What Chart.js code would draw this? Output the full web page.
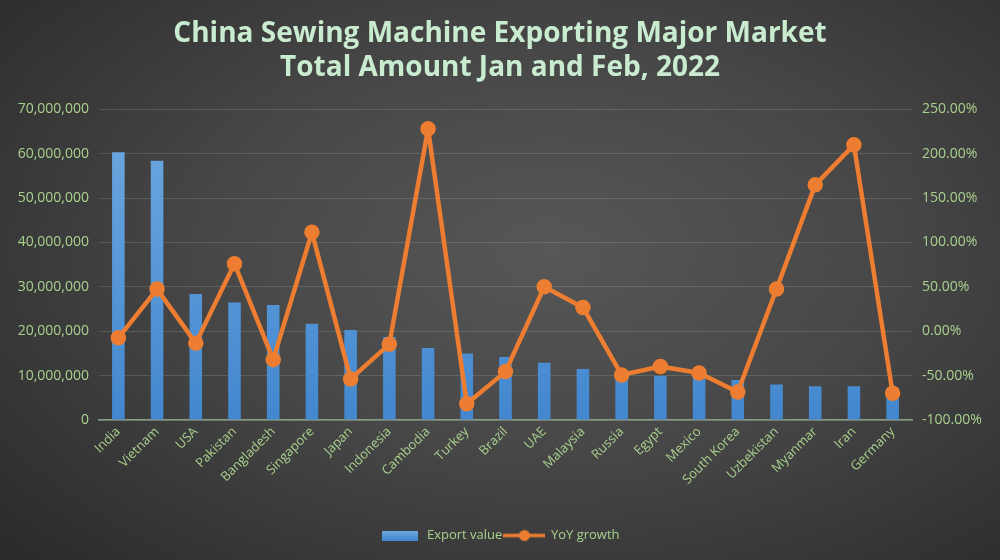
<!DOCTYPE html>
<html>
<head>
<meta charset="utf-8">
<script src="https://cdn.jsdelivr.net/npm/chart.js@4"></script>
<style>
  html, body { margin: 0; padding: 0; }
  body {
    width: 1000px; height: 560px; overflow: hidden;
    background: radial-gradient(ellipse 75% 80% at 55% 45%, #575757 0%, #474747 45%, #2a2a2a 100%);
  }
  #wrap { position: relative; width: 1000px; height: 560px; }
</style>
</head>
<body>
<div id="wrap"><canvas id="chart" width="1000" height="560"></canvas></div>
<script>
'use strict';

// Markets (x categories)
const markets = ['India', 'Vietnam', 'USA', 'Pakistan', 'Bangladesh', 'Singapore', 'Japan', 'Indonesia',
  'Cambodia', 'Turkey', 'Brazil', 'UAE', 'Malaysia', 'Russia', 'Egypt', 'Mexico', 'South Korea',
  'Uzbekistan', 'Myanmar', 'Iran', 'Germany'];

// Export value (USD)
const exportValue = [60300000, 58400000, 28400000, 26500000, 25900000, 21700000, 20300000, 18700000,
  16250000, 15000000, 14200000, 12900000, 11500000, 10500000, 9900000, 9900000, 9000000,
  8000000, 7600000, 7600000, 7200000];

// YoY growth (fraction)
const yoyGrowth = [-0.074, 0.475, -0.134, 0.76, -0.32, 1.114, -0.537, -0.146,
  2.28, -0.816, -0.455, 0.50, 0.268, -0.492, -0.398, -0.47, -0.684,
  0.475, 1.649, 2.10, -0.699];

// Axis ticks
const leftTicks = [0, 10000000, 20000000, 30000000, 40000000, 50000000, 60000000, 70000000];
const rightTicks = [-1, -0.5, 0, 0.5, 1, 1.5, 2, 2.5];

const titleLines = ['China Sewing Machine Exporting Major Market', 'Total Amount Jan and Feb, 2022'];

const green = '#a9d18e';
const orange = '#ed7d31';
const font = "'Open Sans', sans-serif";

// legend icons
const lineIcon = document.createElement('canvas');
lineIcon.width = 42;
lineIcon.height = 14;
(function () {
  const c = lineIcon.getContext('2d');
  c.strokeStyle = orange;
  c.lineWidth = 3.5;
  c.beginPath();
  c.moveTo(0, 7);
  c.lineTo(42, 7);
  c.stroke();
  c.fillStyle = orange;
  c.beginPath();
  c.arc(21, 7, 5.5, 0, Math.PI * 2);
  c.fill();
})();
const barIcon = document.createElement('canvas');
barIcon.width = 36;
barIcon.height = 10;
(function () {
  const c = barIcon.getContext('2d');
  const g = c.createLinearGradient(0, 0, 0, 10);
  g.addColorStop(0, '#6fa9e0');
  g.addColorStop(1, '#4287cf');
  c.fillStyle = g;
  c.fillRect(0, 0, 36, 10);
})();

function barFill(ctx) {
  const area = ctx.chart.chartArea;
  if (!area) return '#5b9bd5';
  const g = ctx.chart.ctx.createLinearGradient(0, area.top, 0, area.bottom);
  g.addColorStop(0, '#6fa9e0');
  g.addColorStop(1, '#4287cf');
  return g;
}

const ctx = document.getElementById('chart');

// eslint-disable-next-line no-new,no-undef
new Chart(ctx, {
  data: {
    labels: markets,
    datasets: [
      {
        type: 'line',
        label: 'YoY growth',
        data: yoyGrowth,
        yAxisID: 'y2',
        borderColor: orange,
        backgroundColor: orange,
        borderWidth: 4.5,
        borderJoinStyle: 'round',
        borderCapStyle: 'round',
        pointRadius: 5.5,
        pointHoverRadius: 5.5,
        tension: 0,
        order: 0,
      },
      {
        type: 'bar',
        label: 'Export value',
        data: exportValue,
        yAxisID: 'y',
        backgroundColor: barFill,
        barPercentage: 0.65,
        categoryPercentage: 0.5,
        order: 1,
      },
    ],
  },
  options: {
    responsive: false,
    animation: false,
    layout: { padding: { left: 0, right: 0, top: 17, bottom: 8 } },
    plugins: {
      title: {
        display: true,
        text: titleLines,
        color: '#c9ecd0',
        font: { family: font, size: 28, weight: 'bold', lineHeight: 1.22 },
        padding: { top: 0, bottom: 24 },
      },
      legend: {
        position: 'bottom',
        labels: {
          color: green,
          font: { family: font, size: 13 },
          usePointStyle: true,
          pointStyleWidth: 40,
          padding: 2,
          generateLabels() {
            return [
              { text: 'Export value', pointStyle: barIcon, fontColor: green, datasetIndex: 1, lineWidth: 0 },
              { text: 'YoY growth', pointStyle: lineIcon, fontColor: green, datasetIndex: 0, lineWidth: 0 },
            ];
          },
        },
      },
      tooltip: { enabled: false },
    },
    scales: {
      x: {
        grid: { display: false, drawTicks: false },
        border: { color: '#8a9c8a', width: 1.5 },
        ticks: {
          color: green,
          font: { family: font, size: 13 },
          minRotation: 45,
          maxRotation: 45,
          padding: 4,
          autoSkip: false,
        },
        afterFit(scale) { scale.height = 107; },
      },
      y: {
        position: 'left',
        min: 0,
        max: 70000000,
        afterBuildTicks(scale) { scale.ticks = leftTicks.map(v => ({ value: v })); },
        grid: { color: 'rgba(150, 175, 150, 0.25)', lineWidth: 1, drawTicks: false },
        border: { display: false },
        ticks: {
          color: green,
          font: { family: font, size: 14 },
          padding: 10,
          callback: v => v.toLocaleString('en-US'),
        },
        afterFit(scale) { scale.width = 99; },
      },
      y2: {
        position: 'right',
        min: -1,
        max: 2.5,
        afterBuildTicks(scale) { scale.ticks = rightTicks.map(v => ({ value: v })); },
        grid: { display: false, drawTicks: false },
        border: { display: false },
        ticks: {
          color: green,
          font: { family: font, size: 14 },
          padding: 10,
          callback: v => (v * 100).toFixed(2) + '%',
        },
        afterFit(scale) { scale.width = 88; },
      },
    },
  },
});
</script>
</body>
</html>
